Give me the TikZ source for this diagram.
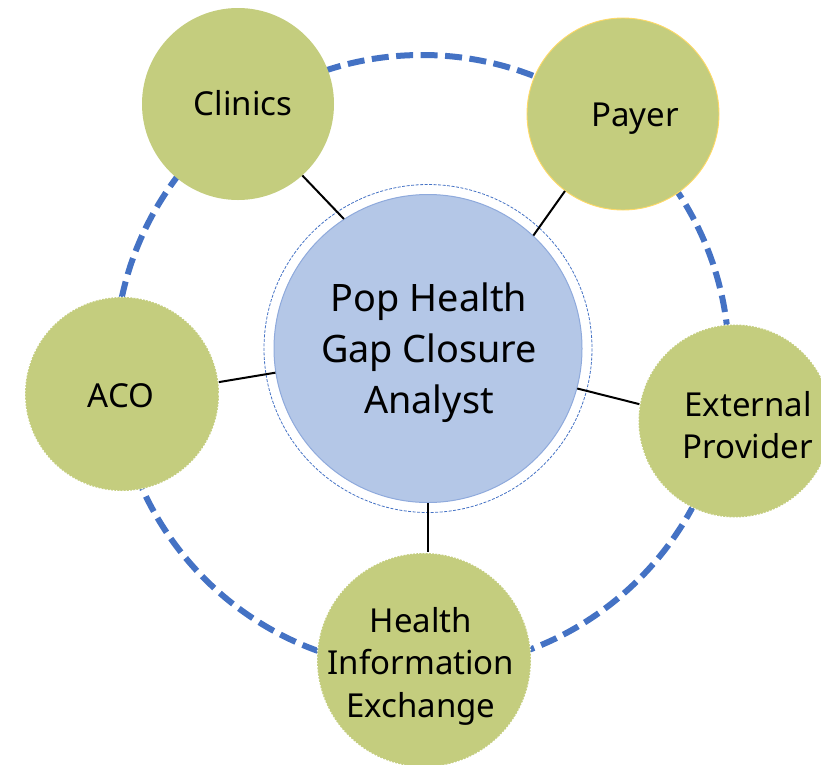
\documentclass[tikz,border=0pt]{standalone}
\usepackage{fontspec}
\setmainfont{Noto Sans}
\definecolor{satgreen}{RGB}{196,205,126}
\definecolor{hubblue}{RGB}{180,199,231}
\definecolor{hubedge}{RGB}{143,170,220}
\definecolor{ringblue}{RGB}{68,114,196}
\definecolor{payeredge}{RGB}{255,217,102}
\begin{document}
\begin{tikzpicture}[x=1pt,y=-1pt,
  sat/.style={circle, fill=satgreen, minimum size=192pt, inner sep=0pt},
  fuzzy/.style={draw=white, line width=1.2pt, dotted},
  sattext/.style={font=\fontsize{33}{42.5}\selectfont, align=center, inner sep=0pt},
  hubtext/.style={font=\fontsize{37.8}{51}\selectfont, align=center, inner sep=0pt},
  link/.style={draw=black, line width=2pt},
  orbit/.style={draw=ringblue, line width=6pt, dash pattern=on 17pt off 7.5pt},
  halo/.style={draw=ringblue, line width=0.8pt, dash pattern=on 3pt off 1.5pt},
]
\clip (0,0) rectangle (821,764);

% outer dashed orbit
\coordinate (orbitc) at (422,362);
\draw[orbit] (orbitc) circle[radius=307];

% central role
\draw[halo] (428,348.5) circle[radius=164];
\node[circle, fill=hubblue, draw=hubedge, line width=1pt, minimum size=308pt, inner sep=0pt] (hub) at (428,348.5) {};

% partner organisations
\node[sat] (clinics) at (238,104) {};
\node[sat, draw=payeredge, line width=0.9pt] (payer) at (623,114) {};
\node[sat, fuzzy, minimum size=194pt] (aco) at (122,394) {};
\node[sat, fuzzy, minimum size=193pt] (ext) at (735,421) {};
\node[sat, fuzzy, minimum size=214pt] (hie) at (424,660) {};

% spokes
\draw[link] (hub.123) -- (clinics.-48);
\draw[link] (hub.47) -- (payer.-127.5);
\draw[link] (hub.189) -- (aco.7.6);
\draw[link] (hub.-15) -- (ext.170);
\draw[link] (hub.south) -- (hub.south |- hie.north);

% labels
\node[hubtext] (hubT) at (429,352.7) {Pop Health\\Gap Closure\\Analyst};
\node[sattext, anchor=base] (clinicsT) at (243,115) {Clinics};
\node[sattext, anchor=base] (payerT) at (635,126) {Payer};
\node[sattext, anchor=base] (acoT) at (121,407) {ACO};
\node[sattext] (extT) at (748,425) {External\\Provider};
\node[sattext] (hieT) at (421,666) {Health\\Information\\Exchange};
\end{tikzpicture}
\end{document}
